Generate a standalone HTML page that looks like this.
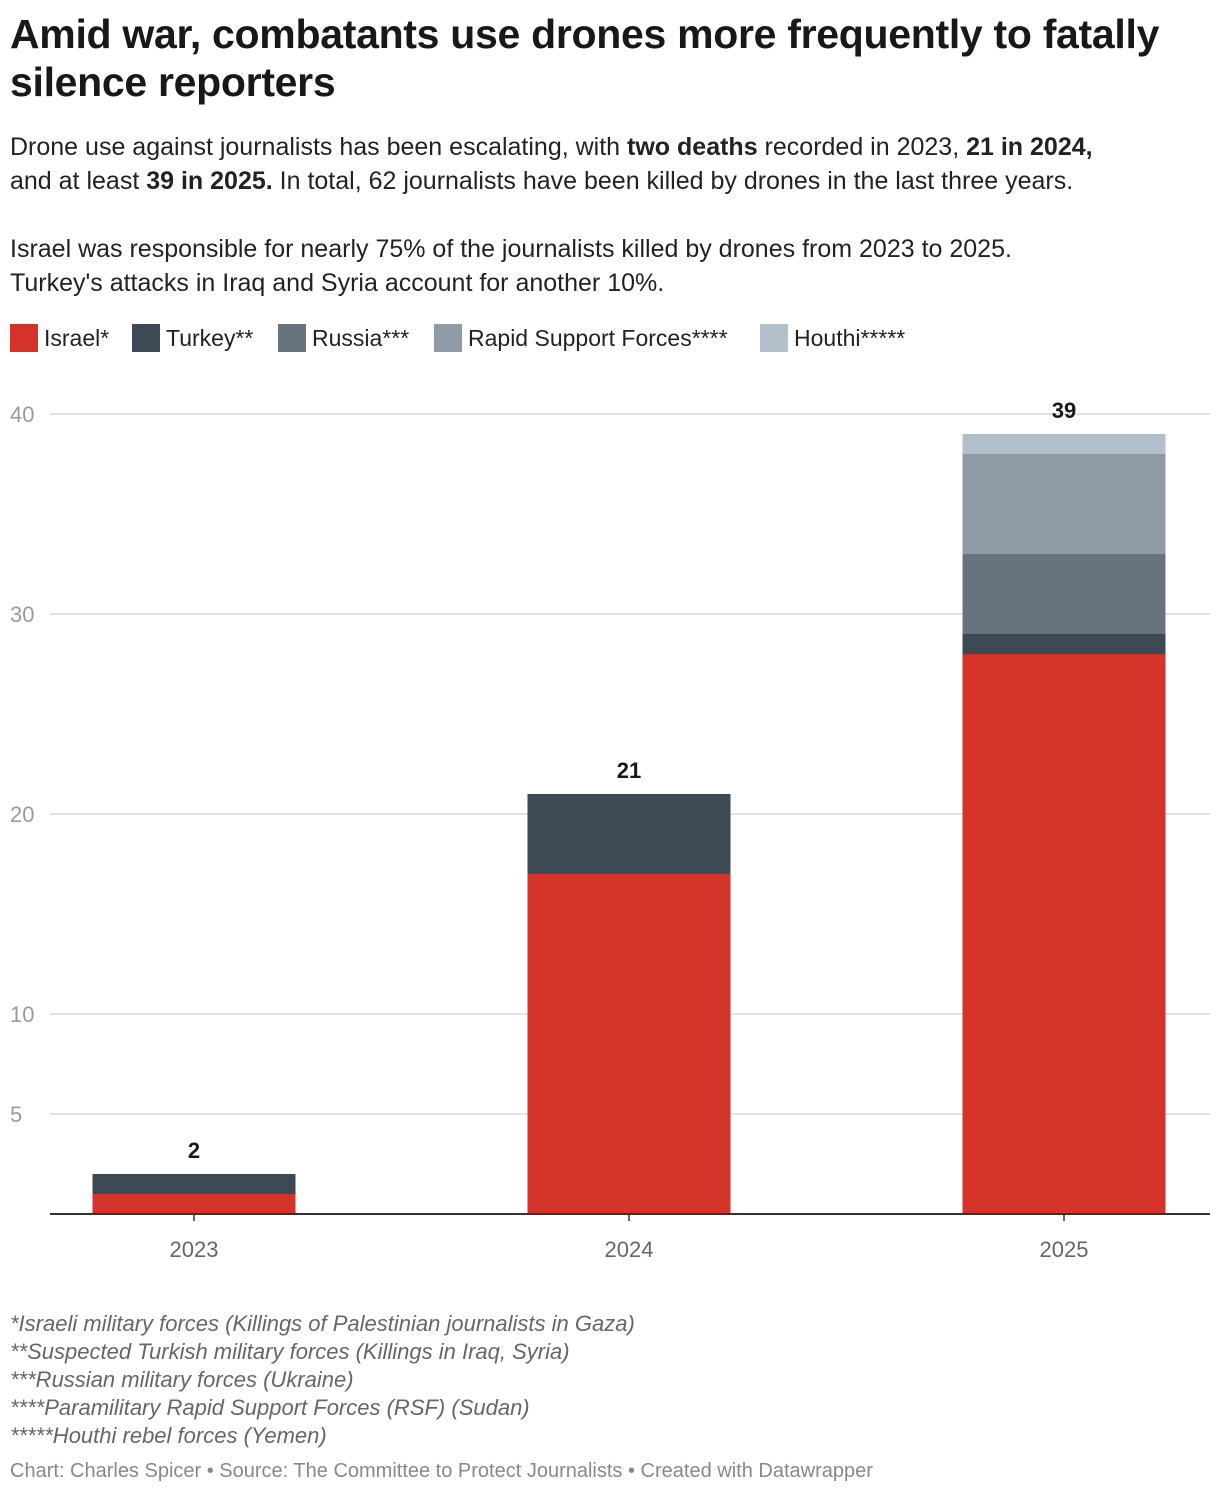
<!DOCTYPE html>
<html><head><meta charset="utf-8"><style>
body{margin:0;background:#fff;font-family:"Liberation Sans",sans-serif;color:#181818;width:1220px;height:1496px;position:relative;overflow:hidden}
.abs{position:absolute}
h1{position:absolute;left:10px;top:10px;margin:0;font-size:41px;line-height:48px;font-weight:bold;width:1200px;letter-spacing:-0.3px}
.sub{position:absolute;left:10px;font-size:25px;line-height:34px;color:#222;width:1210px;white-space:nowrap}
.leg{position:absolute;top:324px;height:28px;font-size:23px;line-height:28px;display:flex;align-items:center;color:#222}
.leg span.sw{display:inline-block;width:28px;height:28px;margin-right:6px}
.fn{position:absolute;left:10px;font-size:22px;font-style:italic;color:#666;line-height:28px}
</style></head><body>
<h1>Amid war, combatants use drones more frequently to fatally silence reporters</h1>
<div class="sub" style="top:130px">Drone use against journalists has been escalating, with <b>two deaths</b> recorded in 2023, <b>21 in 2024,</b><br>and at least <b>39 in 2025.</b> In total, 62 journalists have been killed by drones in the last three years.</div>
<div class="sub" style="top:232px">Israel was responsible for nearly 75% of the journalists killed by drones from 2023 to 2025.<br>Turkey's attacks in Iraq and Syria account for another 10%.</div>
<div class="leg" style="left:10px"><span class="sw" style="background:#d33328"></span>Israel*</div>
<div class="leg" style="left:132px"><span class="sw" style="background:#3d4a55"></span>Turkey**</div>
<div class="leg" style="left:278px"><span class="sw" style="background:#67737f"></span>Russia***</div>
<div class="leg" style="left:434px"><span class="sw" style="background:#8f9ba7"></span>Rapid Support Forces****</div>
<div class="leg" style="left:760px"><span class="sw" style="background:#b3bfca"></span>Houthi*****</div>
<svg id="chart" class="abs" style="left:0;top:0" width="1220" height="1300"></svg>
<div class="fn" style="top:1310px">*Israeli military forces (Killings of Palestinian journalists in Gaza)<br>**Suspected Turkish military forces (Killings in Iraq, Syria)<br>***Russian military forces (Ukraine)<br>****Paramilitary Rapid Support Forces (RSF) (Sudan)<br>*****Houthi rebel forces (Yemen)</div>
<div class="abs" style="left:10px;top:1460px;font-size:20px;color:#888">Chart: Charles Spicer • Source: The Committee to Protect Journalists • Created with Datawrapper</div>
<script>
const categories=["2023","2024","2025"];
const israel=[1,17,28];
const turkey=[1,4,1];
const russia=[0,0,4];
const rsf=[0,0,5];
const houthi=[0,0,1];
const ticks=[5,10,20,30,40];
const seriesNames=["israel","turkey","russia","rsf","houthi"];
const series=[israel,turkey,russia,rsf,houthi];
const colors=["#d33328","#3d4a55","#67737f","#8f9ba7","#b3bfca"];
const NS="http://www.w3.org/2000/svg";
const svg=document.getElementById('chart');
const y=v=>1214-v*20;
const x=i=>194+i*435;
const bw=203;
function mk(t,a){const e=document.createElementNS(NS,t);for(const k in a)e.setAttribute(k,a[k]);svg.appendChild(e);return e;}
ticks.forEach(t=>{
  const l=mk('line',{x1:50,x2:1210,y1:y(t),y2:y(t),stroke:'#e2e2e2','stroke-width':2});
  
  
  const tx=mk('text',{x:10,y:y(t)+8,'font-size':22,fill:'#9a9a9a','font-family':'Liberation Sans'});
  tx.textContent=t;
  
  
});
categories.forEach((c,i)=>{
  let acc=0;
  series.forEach((s,j)=>{
    if(s[i]<=0)return;
    const r=mk('rect',{x:x(i)-bw/2,y:y(acc+s[i]),width:bw,height:s[i]*20,fill:colors[j]});
    
    
    acc+=s[i];
  });
  const lb=mk('text',{x:x(i),y:y(acc)-16,'font-size':22,'font-weight':'bold','text-anchor':'middle',fill:'#181818','font-family':'Liberation Sans'});
  lb.textContent=acc;
  
  
  const tk=mk('line',{x1:x(i),x2:x(i),y1:1214,y2:1221,stroke:'#333','stroke-width':1.5});
  
  
  const xl=mk('text',{x:x(i),y:1257,'font-size':22,'text-anchor':'middle',fill:'#666','font-family':'Liberation Sans'});
  xl.textContent=c;
  
  
});
const ax=mk('line',{x1:50,x2:1210,y1:1214,y2:1214,stroke:'#333','stroke-width':2});


</script>
</body></html>
